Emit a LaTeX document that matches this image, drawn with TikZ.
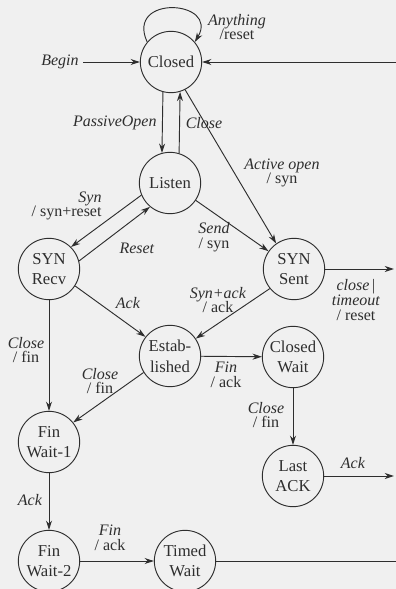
\documentclass[tikz,border=0pt]{standalone}
\usepackage{fontspec}
\setmainfont{Liberation Serif}
\usetikzlibrary{arrows.meta}
\tikzset{
  state/.style={draw,circle,minimum size=46pt,inner sep=0pt,align=center,
    font=\fontsize{12.5}{15.5}\selectfont},
  lbl/.style={inner sep=0pt,align=center,font=\fontsize{12}{11}\selectfont}
}
\begin{document}
\begin{tikzpicture}[x=0.75pt,y=-0.75pt,color=black!82,line width=0.7pt,
    >={Stealth[length=7pt,width=4.5pt]}]
    \fill[black!6] (0,0) rectangle (396,589);
    \useasboundingbox (0,0) rectangle (396,589);

    % states
    \node[state] (closed) at (171,62) {Closed};
    \node[state] (listen) at (170,183) {Listen};
    \node[state] (synrecv) at (49,269) {SYN\\Recv};
    \node[state] (synsent) at (294,269) {SYN\\Sent};
    \node[state] (estab) at (170,356) {Estab-\\lished};
    \node[state] (closedwait) at (293,357) {Closed\\Wait};
    \node[state] (finwait1) at (49,442) {Fin\\Wait-1};
    \node[state] (lastack) at (293,476) {Last\\ACK};
    \node[state] (finwait2) at (49,561) {Fin\\Wait-2};
    \node[state] (timedwait) at (185,561) {Timed\\Wait};

    % loose ends at the right border
    \coordinate (rclosed) at (396,62);
    \coordinate (rsynsent) at (394,269);
    \coordinate (rlastack) at (394,476);
    \coordinate (rtimed) at (396,561);

    \node[lbl] (begin) at (60,62) {\textit{Begin}};
    \draw[->,shorten <=3pt] (begin) -- (closed);
    \draw[->] (rclosed) -- (closed);
    \draw[->] (closed.140) .. controls +(-22,-48) and +(25,-42) .. (closed.40);

    \draw[->] (closed.-105) -- (listen.105);
    \draw[->] (listen.73) -- (closed.-73);
    \draw[->] (closed.-63) -- (synsent.125);
    \draw[->] (listen.203) -- (synrecv.45);
    \draw[->] (synrecv.15) -- (listen.230);
    \draw[->] (listen.-34) -- (synsent.145);
    \draw[->] (synrecv.-33) -- (estab.142);
    \draw[->] (synsent.219) -- (estab.34);
    \draw[->] (synsent) -- (rsynsent);
    \draw[->] (synrecv) -- (finwait1);
    \draw[->] (estab.212) -- (finwait1.39);
    \draw[->] (estab) -- (closedwait);
    \draw[->] (closedwait) -- (lastack);
    \draw[->] (lastack) -- (rlastack);
    \draw[->] (finwait1) -- (finwait2);
    \draw[->] (finwait2) -- (timedwait);
    \draw (timedwait) -- (rtimed);

    % transition labels
    \node[lbl] (lanything) at (237,27) {\textit{Anything}\\/reset};
    \node[lbl,anchor=east] (lpassive) at (157,123) {\textit{PassiveOpen}};
    \node[lbl] (lclose) at (204,123) {\textit{Close}};
    \node[lbl] (lactive) at (282,173) {\textit{Active open}\\/ syn};
    \node[lbl,align=right,anchor=east] (lsyn) at (102,206) {\textit{Syn}\\/ syn+reset};
    \node[lbl] (lreset) at (137,248) {\textit{Reset}};
    \node[lbl] (lsend) at (214,237) {\textit{Send}\\/ syn};
    \node[lbl] (lsynack) at (218,300) {\textit{Syn+ack}\\/ ack};
    \node[lbl] (ltimeout) at (356,300) {\textit{close}\,|\\\textit{timeout}\\/ reset};
    \node[lbl] (lack) at (128,303) {\textit{Ack}};
    \node[lbl] (lclosea) at (26,350) {\textit{Close}\\/ fin};
    \node[lbl] (lcloseb) at (100,381) {\textit{Close}\\/ fin};
    \node[lbl] (lfina) at (226,375) {\textit{Fin}\\/ ack};
    \node[lbl] (lclosec) at (266,415) {\textit{Close}\\/ fin};
    \node[lbl] (lacklast) at (353,463) {\textit{Ack}};
    \node[lbl] (lackfin) at (30,500) {\textit{Ack}};
    \node[lbl] (lfinb) at (110,538) {\textit{Fin}\\/ ack};
\end{tikzpicture}
\end{document}
